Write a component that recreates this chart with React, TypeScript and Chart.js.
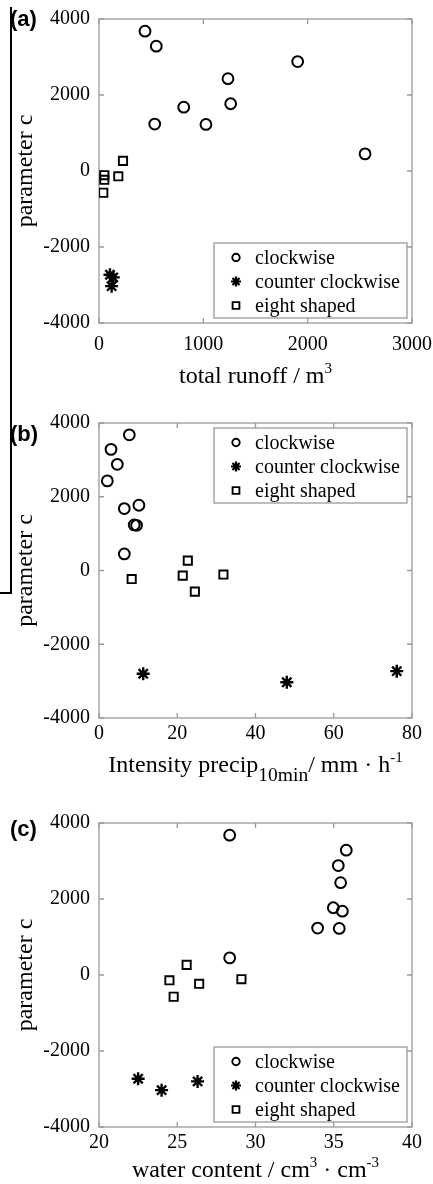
import React, { useEffect, useRef } from 'react';
import { Chart, registerables } from 'chart.js';

Chart.register(...registerables);

// ---------- data ----------
const seriesLabels = ['clockwise', 'counter clockwise', 'eight shaped'];

// parameter c (shared by all three panels)
const clockwiseC = [3680, 3285, 2880, 2430, 1770, 1680, 1235, 1225, 450];
const counterC = [-2730, -2800, -3030];
const eightC = [267, -110, -140, -232, -572];

// (a) total runoff / m3
const runoffClockwise = [441, 549, 1904, 1236, 1262, 812, 534, 1025, 2550];
const runoffCounter = [105, 137, 121];
const runoffEight = [230, 51, 185, 51, 41];

// (b) intensity precip 10min / mm h-1
const intensityClockwise = [7.75, 3.07, 4.68, 2.13, 10.2, 6.47, 9.0, 9.6, 6.47];
const intensityCounter = [76.1, 11.3, 48.0];
const intensityEight = [22.7, 31.8, 21.4, 8.35, 24.5];

// (c) water content / cm3 cm-3
const waterClockwise = [28.35, 35.8, 35.29, 35.44, 34.97, 35.55, 33.97, 35.35, 28.35];
const waterCounter = [22.5, 26.3, 24.0];
const waterEight = [25.6, 29.1, 24.5, 26.4, 24.77];

// ticks
const cTicks = [-4000, -2000, 0, 2000, 4000];
const runoffTicks = [0, 1000, 2000, 3000];
const intensityTicks = [0, 20, 40, 60, 80];
const waterTicks = [20, 25, 30, 35, 40];

const SERIF = '"Liberation Serif", "Times New Roman", serif';
const SANS = '"Liberation Sans", Arial, sans-serif';
const FRAME = '#9a9a9a';

type Part = { t: string; size: number; dy: number };

interface PanelCfg {
  tag: string;
  tagBaseline: number;
  top: number;
  height: number;
  padTop: number;
  xAxisHeight: number;
  tickPad: number;
  xTicks: number[];
  xs: number[][];
  title: Part[];
  titleOffset: number;
  legendPos: 'top' | 'bottom';
}

const panels: PanelCfg[] = [
  {
    tag: '(a)', tagBaseline: 25.5, top: 0, height: 395, padTop: 19, xAxisHeight: 72, tickPad: 10,
    xTicks: runoffTicks, xs: [runoffClockwise, runoffCounter, runoffEight],
    title: [
      { t: 'total runoff / m', size: 24, dy: 0 },
      { t: '3', size: 15, dy: -10 },
    ],
    titleOffset: 60, legendPos: 'bottom',
  },
  {
    tag: '(b)', tagBaseline: 45.5, top: 395, height: 395, padTop: 28, xAxisHeight: 72, tickPad: 4,
    xTicks: intensityTicks, xs: [intensityClockwise, intensityCounter, intensityEight],
    title: [
      { t: 'Intensity precip', size: 24, dy: 0 },
      { t: '10min', size: 19.5, dy: 9 },
      { t: '/ mm \u00b7 h', size: 24, dy: 0 },
      { t: '-1', size: 15, dy: -10 },
    ],
    titleOffset: 53.5, legendPos: 'top',
  },
  {
    tag: '(c)', tagBaseline: 46, top: 790, height: 394, padTop: 33, xAxisHeight: 57, tickPad: 4,
    xTicks: waterTicks, xs: [waterClockwise, waterCounter, waterEight],
    title: [
      { t: 'water content / cm', size: 24, dy: 0 },
      { t: '3', size: 15, dy: -10 },
      { t: ' \u00b7 cm', size: 24, dy: 0 },
      { t: '-3', size: 15, dy: -10 },
    ],
    titleOffset: 50, legendPos: 'bottom',
  },
];

function drawSymbol(ctx: CanvasRenderingContext2D, style: string, cx: number, cy: number, r: number) {
  ctx.beginPath();
  if (style === 'circle') {
    ctx.arc(cx, cy, r, 0, Math.PI * 2);
  } else if (style === 'rect') {
    ctx.rect(cx - r, cy - r, 2 * r, 2 * r);
  } else {
    for (let k = 0; k < 4; k++) {
      const ang = (k * Math.PI) / 4;
      ctx.moveTo(cx - Math.cos(ang) * r * 1.25, cy - Math.sin(ang) * r * 1.25);
      ctx.lineTo(cx + Math.cos(ang) * r * 1.25, cy + Math.sin(ang) * r * 1.25);
    }
  }
  ctx.stroke();
}

const framePlugin = {
  id: 'frame',
  beforeDatasetsDraw(chart: any) {
    const { ctx, chartArea: a, scales } = chart;
    ctx.save();
    ctx.strokeStyle = FRAME;
    ctx.lineWidth = 1.3;
    ctx.strokeRect(a.left, a.top, a.right - a.left, a.bottom - a.top);
    const tl = 5;
    ctx.beginPath();
    scales.x.ticks.forEach((t: any) => {
      const px = scales.x.getPixelForValue(t.value);
      ctx.moveTo(px, a.bottom);
      ctx.lineTo(px, a.bottom - tl);
      ctx.moveTo(px, a.top);
      ctx.lineTo(px, a.top + tl);
    });
    scales.y.ticks.forEach((t: any) => {
      const py = scales.y.getPixelForValue(t.value);
      ctx.moveTo(a.left, py);
      ctx.lineTo(a.left + tl, py);
      ctx.moveTo(a.right, py);
      ctx.lineTo(a.right - tl, py);
    });
    ctx.stroke();
    ctx.restore();
  },
  afterDraw(chart: any, _args: any, opts: any) {
    const { ctx, chartArea: a } = chart;
    ctx.save();
    // legend
    const w = 193, h = 75;
    const left = a.right - 5 - w;
    const top = opts.legendPos === 'top' ? a.top + 5 : a.bottom - 5 - h;
    ctx.fillStyle = '#fff';
    ctx.fillRect(left, top, w, h);
    ctx.strokeStyle = FRAME;
    ctx.lineWidth = 1.3;
    ctx.strokeRect(left, top, w, h);
    ctx.font = `20px ${SERIF}`;
    ctx.textBaseline = 'alphabetic';
    ctx.textAlign = 'left';
    chart.data.datasets.forEach((ds: any, i: number) => {
      const base = top + 20.5 + 24 * i;
      ctx.strokeStyle = '#000';
      ctx.lineWidth = ds.pointStyle === 'star' ? 2.2 : 1.9;
      const r = ds.pointStyle === 'circle' ? 3.7 : ds.pointStyle === 'rect' ? 3.4 : 4;
      drawSymbol(ctx, ds.pointStyle, left + 22, base - 6, r);
      ctx.fillStyle = '#000';
      ctx.fillText(ds.label, left + 41, base);
    });
    // panel tag
    ctx.font = `bold 22px ${SANS}`;
    ctx.fillStyle = '#000';
    ctx.fillText(opts.tag, 10, opts.tagBaseline);
    // x title with sub/superscripts
    const parts: Part[] = opts.title;
    let total = 0;
    parts.forEach((p) => {
      ctx.font = `${p.size}px ${SERIF}`;
      total += ctx.measureText(p.t).width;
    });
    let x = (a.left + a.right) / 2 - total / 2;
    const by = a.bottom + opts.titleOffset;
    parts.forEach((p) => {
      ctx.font = `${p.size}px ${SERIF}`;
      ctx.fillText(p.t, x, by + p.dy);
      x += ctx.measureText(p.t).width;
    });
    ctx.restore();
  },
};

function zeroPad(s: any) {
  s.paddingLeft = 0;
  s.paddingRight = 0;
  s.paddingTop = 0;
  s.paddingBottom = 0;
}

function Panel({ cfg }: { cfg: PanelCfg }) {
  const ref = useRef<HTMLCanvasElement | null>(null);
  useEffect(() => {
    if (!ref.current) return;
    const ys = [clockwiseC, counterC, eightC];
    const styles = ['circle', 'star', 'rect'];
    const radii = [5.4, 6.5, 5.8];
    const widths = [2, 2.4, 1.9];
    const chart = new Chart(ref.current, {
      type: 'scatter',
      data: {
        datasets: seriesLabels.map((label, i) => ({
          label,
          data: cfg.xs[i].map((x, j) => ({ x, y: ys[i][j] })),
          pointStyle: styles[i],
          pointRadius: radii[i],
          pointHoverRadius: radii[i],
          borderColor: '#000',
          backgroundColor: 'rgba(0,0,0,0)',
          borderWidth: widths[i],
        })),
      },
      options: {
        responsive: false,
        animation: false,
        devicePixelRatio: 1,
        layout: { padding: { top: cfg.padTop, right: 21, left: 0, bottom: 0 } },
        plugins: {
          legend: { display: false },
          tooltip: { enabled: false },
          frame: { tag: cfg.tag, tagBaseline: cfg.tagBaseline, title: cfg.title, titleOffset: cfg.titleOffset, legendPos: cfg.legendPos },
        } as any,
        scales: {
          x: {
            type: 'linear',
            min: cfg.xTicks[0],
            max: cfg.xTicks[cfg.xTicks.length - 1],
            grid: { display: false, drawTicks: false },
            border: { display: false },
            ticks: {
              color: '#000',
              font: { size: 20, family: SERIF },
              padding: cfg.tickPad,
              maxRotation: 0,
              autoSkip: false,
              callback: (v: any) => String(v),
            },
            afterBuildTicks: (s: any) => {
              s.ticks = cfg.xTicks.map((value) => ({ value }));
            },
            afterFit: (s: any) => {
              s.height = cfg.xAxisHeight;
              zeroPad(s);
            },
          },
          y: {
            type: 'linear',
            min: cTicks[0],
            max: cTicks[cTicks.length - 1],
            grid: { display: false, drawTicks: false },
            border: { display: false },
            ticks: {
              color: '#000',
              font: { size: 20, family: SERIF },
              padding: 9,
              autoSkip: false,
              callback: (v: any) => String(v),
            },
            title: {
              display: true,
              text: 'parameter c',
              color: '#000',
              font: { size: 24, family: SERIF },
              padding: { top: 11, bottom: 0 },
            },
            afterBuildTicks: (s: any) => {
              s.ticks = cTicks.map((value) => ({ value }));
            },
            afterFit: (s: any) => {
              s.width = 99;
              zeroPad(s);
            },
          },
        },
      },
      plugins: [framePlugin],
    } as any);
    return () => chart.destroy();
  }, [cfg]);
  return (
    <div style={{ position: 'absolute', left: 0, top: cfg.top, width: 433, height: cfg.height }}>
      <canvas ref={ref} width={433} height={cfg.height} style={{ width: 433, height: cfg.height, display: 'block' }} />
    </div>
  );
}

export default function App() {
  return (
    <div style={{ position: 'absolute', left: 0, top: 0, width: 433, height: 1184, background: '#fff', overflow: 'hidden' }}>
      {panels.map((p) => (
        <Panel key={p.tag} cfg={p} />
      ))}
      <div style={{ position: 'absolute', left: 10, top: 7, width: 1.5, height: 586, background: '#000' }} />
      <div style={{ position: 'absolute', left: 0, top: 592, width: 11.5, height: 1.5, background: '#000' }} />
    </div>
  );
}
